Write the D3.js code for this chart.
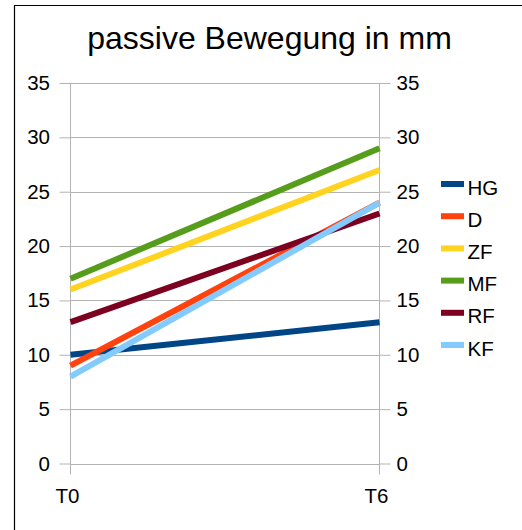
<!DOCTYPE html>
<html>
<head>
<meta charset="utf-8">
<script src="https://cdn.jsdelivr.net/npm/d3@7"></script>
<style>
  html, body { margin: 0; padding: 0; background: #fff; }
  svg { display: block; font-family: "Liberation Sans", Arial, sans-serif; }
</style>
</head>
<body>
<svg id="chart" width="522" height="530"></svg>
<script>
// Measurement points and series
const categories = ["T0", "T6"];
const seriesNames = ["HG", "D", "ZF", "MF", "RF", "KF"];
const seriesValues = [
  [10, 13],
  [9, 24],
  [16, 27],
  [17, 29],
  [13, 23],
  [8, 24]
];
const seriesColors = ["#004586", "#ff420e", "#ffd320", "#579d1c", "#7e0021", "#83caff"];
const yTicks = [0, 5, 10, 15, 20, 25, 30, 35];
const titleText = "passive Bewegung in mm";

const svg = d3.select("#chart");
const fontFamily = "Liberation Sans, Arial, sans-serif";

// outer frame (top and left edges)
svg.append("path")
  .attr("d", "M14.5,530 V5.5 H522")
  .attr("fill", "none")
  .attr("stroke", "#000")
  .attr("stroke-width", 1.2);

const plot = { left: 70.5, right: 379.5, top: 83, bottom: 463.5 };

const x = d3.scalePoint().domain(categories).range([plot.left, plot.right]);
const y = d3.scaleLinear().domain([0, 35]).range([plot.bottom, plot.top]);

// title
svg.append("text")
  .attr("x", 269.5)
  .attr("y", 48.5)
  .attr("text-anchor", "middle")
  .attr("font-size", 32)
  .attr("fill", "#000")
  .text(titleText);

const grid = "#b3b3b3";

// horizontal grid lines
svg.append("g")
  .selectAll("line")
  .data(yTicks)
  .join("line")
  .attr("x1", plot.left)
  .attr("x2", plot.right)
  .attr("y1", d => Math.round(y(d)) + 0.5)
  .attr("y2", d => Math.round(y(d)) + 0.5)
  .attr("stroke", grid)
  .attr("stroke-width", 1);

// left and right value axes
const yLeft = d3.axisLeft(y).tickValues(yTicks).tickSize(11).tickPadding(9.5);
const yRight = d3.axisRight(y).tickValues(yTicks).tickSize(11).tickPadding(6);

function styleAxis(g) {
  g.select(".domain").remove();
  g.selectAll(".tick line").attr("stroke", grid);
  g.selectAll(".tick text").attr("font-size", 20.5).attr("fill", "#000")
    .attr("font-family", fontFamily);
}

svg.append("g")
  .attr("transform", `translate(${plot.left},0)`)
  .call(yLeft)
  .call(styleAxis);

svg.append("g")
  .attr("transform", `translate(${plot.right},0)`)
  .call(yRight)
  .call(styleAxis);

// vertical category lines with tick extension below zero
svg.append("g")
  .selectAll("line")
  .data(categories)
  .join("line")
  .attr("x1", d => x(d))
  .attr("x2", d => x(d))
  .attr("y1", plot.top)
  .attr("y2", plot.bottom + 11)
  .attr("stroke", grid)
  .attr("stroke-width", 1);

// category labels
svg.append("g")
  .selectAll("text")
  .data(categories)
  .join("text")
  .attr("x", d => x(d) - 3)
  .attr("y", 503)
  .attr("text-anchor", "middle")
  .attr("font-size", 20.5)
  .attr("fill", "#000")
  .text(d => d);

// series lines
const line = d3.line()
  .x((d, i) => x(categories[i]))
  .y(d => y(d));

svg.append("g")
  .selectAll("path")
  .data(seriesValues)
  .join("path")
  .attr("d", d => line(d))
  .attr("fill", "none")
  .attr("stroke", (d, i) => seriesColors[i])
  .attr("stroke-width", 6)
  .attr("stroke-linecap", "butt");

// legend
const legend = svg.append("g");
const rows = legend.selectAll("g")
  .data(seriesNames)
  .join("g")
  .attr("transform", (d, i) => `translate(441,${184 + i * 32.2})`);

rows.append("line")
  .attr("x1", 0)
  .attr("x2", 23)
  .attr("y1", 0)
  .attr("y2", 0)
  .attr("stroke", (d, i) => seriesColors[i])
  .attr("stroke-width", 6);

rows.append("text")
  .attr("x", 26.5)
  .attr("y", 10.5)
  .attr("font-size", 20.5)
  .attr("fill", "#000")
  .text(d => d);
</script>
</body>
</html>
